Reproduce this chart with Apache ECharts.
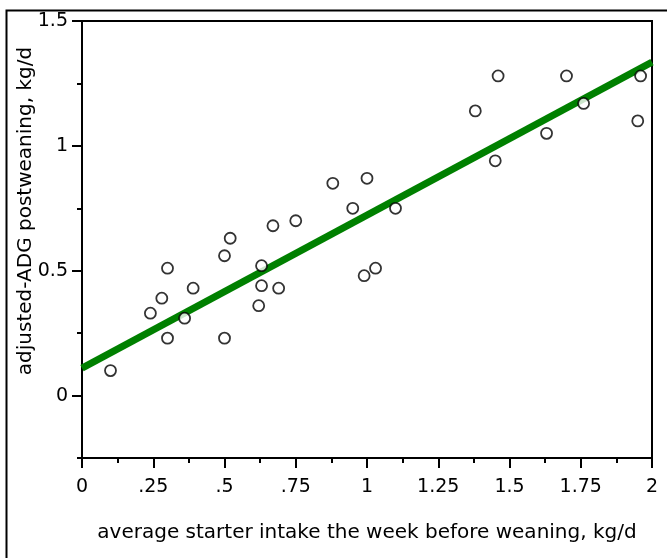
<!DOCTYPE html>
<head>
    <meta charset="utf-8">
    <title>ECharts</title>
    <script type="text/javascript" src="https://cdn.jsdelivr.net/npm/echarts@6/dist/echarts.min.js"></script>
</head>

<body style="margin:0">
<div id="main" style="width:667px;height:558px"></div>

<script type="text/javascript">

    // starter intake (kg/d) and adjusted ADG (kg/d)
    var intake = [0.10, 0.24, 0.28, 0.30, 0.30, 0.36, 0.39, 0.50, 0.50, 0.52,
                  0.62, 0.63, 0.63, 0.67, 0.69, 0.75, 0.88, 0.95, 0.99, 1.00,
                  1.03, 1.10, 1.38, 1.45, 1.46, 1.63, 1.70, 1.76, 1.95, 1.96];
    var adg = [0.10, 0.33, 0.39, 0.51, 0.23, 0.31, 0.43, 0.56, 0.23, 0.63,
               0.36, 0.52, 0.44, 0.68, 0.43, 0.70, 0.85, 0.75, 0.48, 0.87,
               0.51, 0.75, 1.14, 0.94, 1.28, 1.05, 1.28, 1.17, 1.10, 1.28];
    // fitted line end points
    var fitX = [0, 2];
    var fitY = [0.11, 1.335];

    var xTickValues = [0, 0.25, 0.5, 0.75, 1, 1.25, 1.5, 1.75, 2];
    var xTickLabels = ['0', '.25', '.5', '.75', '1', '1.25', '1.5', '1.75', '2'];
    var yTickValues = [0, 0.5, 1, 1.5];
    var yTickLabels = ['0', '0.5', '1', '1.5'];
    var yMinorTicks = [-0.25, 0.25, 0.75, 1.25];

    var font = 'DejaVu Sans';

    var points = [];
    for (var i = 0; i < intake.length; i++) {
        points.push([intake[i], adg[i]]);
    }
    var fit = [];
    for (var i = 0; i < fitX.length; i++) {
        fit.push([fitX[i], fitY[i]]);
    }

    var myChart = echarts.init(document.getElementById('main'));
    var option = {
        animation: false,
        grid: {
            left: 82, top: 21, right: 15, bottom: 100,
            show: true, borderColor: '#000', borderWidth: 2, backgroundColor: 'transparent'
        },
        xAxis: {
            type: 'value', min: 0, max: 2, interval: 0.25,
            name: 'average starter intake the week before weaning, kg/d',
            nameLocation: 'middle', nameGap: 65,
            nameTextStyle: { fontFamily: font, fontSize: 20, color: '#000' },
            axisLine: { onZero: false, lineStyle: { color: '#000', width: 2 } },
            axisTick: { length: 10, lineStyle: { color: '#000', width: 2 } },
            minorTick: { show: true, splitNumber: 2, length: 5, lineStyle: { color: '#000', width: 2 } },
            splitLine: { show: false },
            axisLabel: {
                margin: 20, fontFamily: font, fontSize: 19, color: '#000',
                formatter: function (v) {
                    var k = xTickValues.indexOf(v);
                    return k >= 0 ? xTickLabels[k] : '';
                }
            }
        },
        yAxis: [{
            type: 'value', min: -0.25, max: 1.5, interval: 0.25,
            axisLine: { onZero: false, lineStyle: { color: '#000', width: 2 } },
            axisTick: { length: 10, customValues: yTickValues, lineStyle: { color: '#000', width: 2 } },
            splitLine: { show: false },
            axisLabel: {
                margin: 14, fontFamily: font, fontSize: 19, color: '#000',
                customValues: yTickValues,
                formatter: function (v) {
                    var k = yTickValues.indexOf(v);
                    return k >= 0 ? yTickLabels[k] : '';
                }
            }
        }, {
            type: 'value', min: -0.25, max: 1.5, interval: 0.25, position: 'left',
            axisLine: { show: false },
            axisTick: { length: 5, customValues: yMinorTicks, lineStyle: { color: '#000', width: 2 } },
            splitLine: { show: false },
            axisLabel: { show: false }
        }],
        graphic: [{
            type: 'rect', left: 4, top: 8, silent: true,
            shape: { width: 700, height: 600 },
            style: { fill: 'none', stroke: '#000', lineWidth: 2 }
        }, {
            type: 'text', x: 26, y: 211, rotation: Math.PI / 2,
            style: {
                text: 'adjusted-ADG postweaning, kg/d',
                font: '20px "DejaVu Sans"', fill: '#000',
                align: 'center', verticalAlign: 'middle'
            }
        }],
        series: [{
            type: 'line', data: fit, showSymbol: false, z: 2,
            lineStyle: { color: '#008000', width: 7 }
        }, {
            type: 'scatter', data: points, symbol: 'circle', symbolSize: 11, z: 3,
            itemStyle: { color: '#fff', borderColor: '#000', borderWidth: 1.8 }
        }]
    };
    myChart.setOption(option);

</script>
</body>
